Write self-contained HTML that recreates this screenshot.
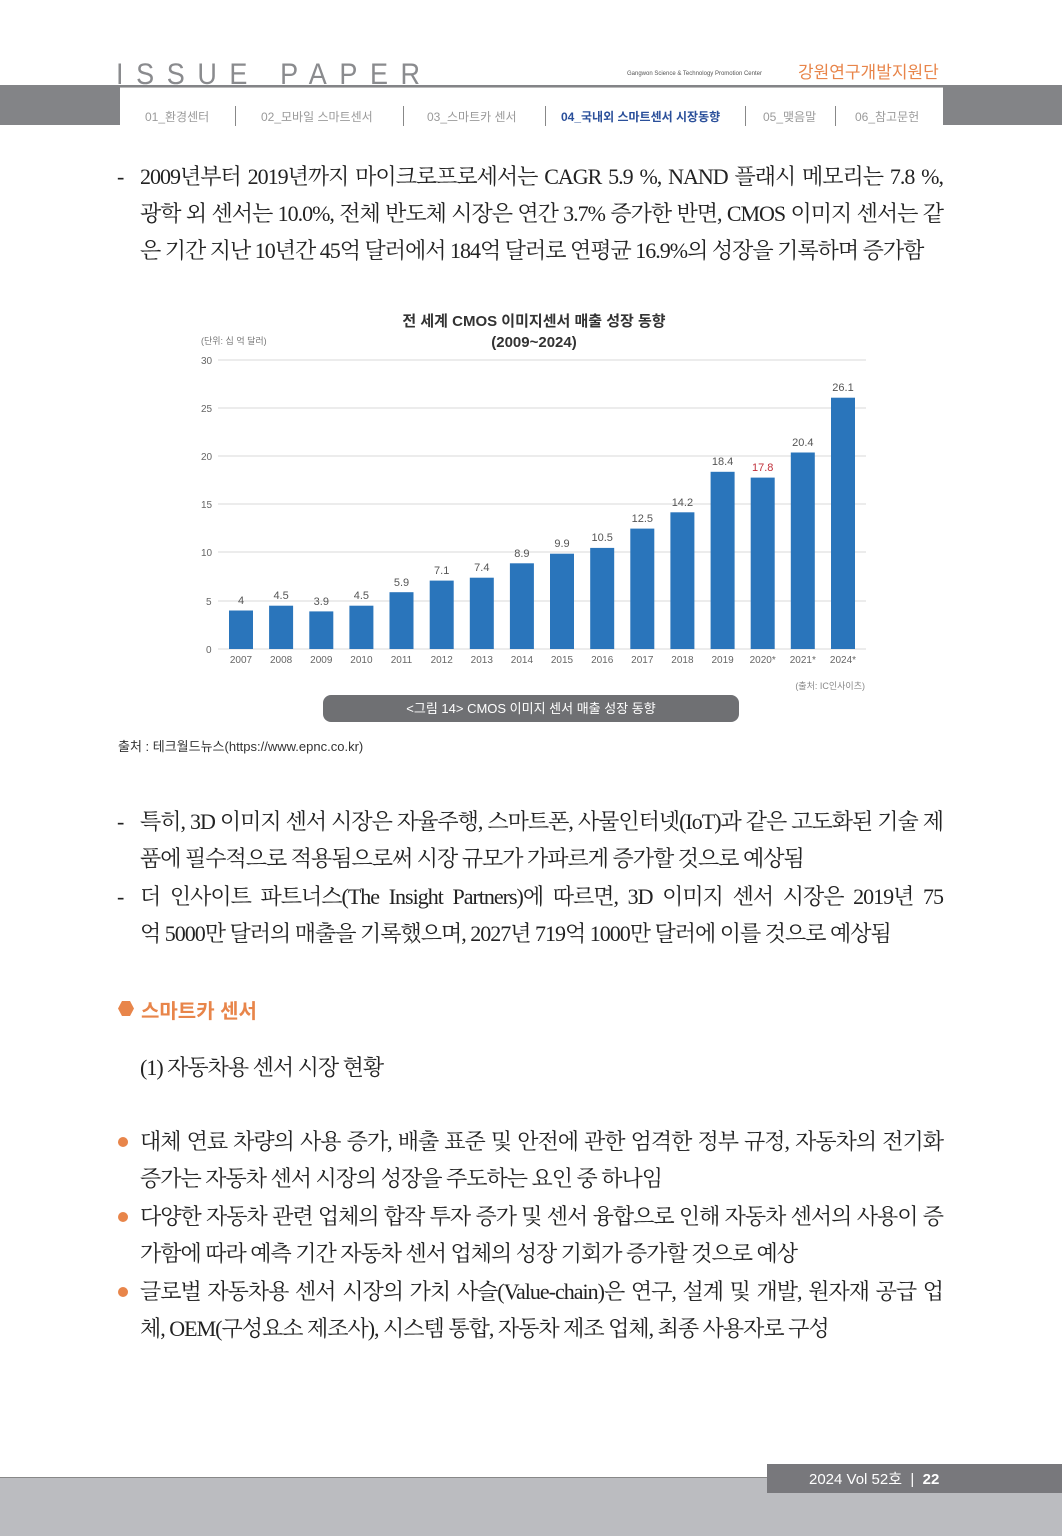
<!DOCTYPE html>
<html><head><meta charset="utf-8">
<style>
body{margin:0;width:1062px;height:1535px;position:relative;background:#fff;overflow:hidden;font-family:"Liberation Sans","Noto Sans CJK KR",sans-serif}
.a{position:absolute;white-space:nowrap}
.t{position:absolute;font-family:"Liberation Serif","Noto Serif CJK KR",serif;font-size:22px;color:#222;white-space:nowrap;letter-spacing:-1px;line-height:30px}
.j{width:803px;text-align:justify;text-align-last:justify}
.nav{font-size:12px;color:#9a9a9a;top:108px}
.sep{position:absolute;top:106px;width:1px;height:20px;background:#888}
</style></head><body>
<div class="a" style="left:116px;top:58px;font-size:30px;letter-spacing:14px;color:#8a8b8e;font-family:'Liberation Sans',sans-serif;transform:scaleX(0.9);transform-origin:left">ISSUE PAPER</div>
<div class="a" style="left:627px;top:71px;font-size:6px;color:#555">Gangwon Science &amp; Technology Promotion Center</div>
<div class="a" style="left:798px;top:58px;font-size:17px;color:#e8854a">강원연구개발지원단</div>
<div class="a" style="left:0;top:85px;width:1062px;height:40px;background:#838487"></div>
<div class="a" style="left:120px;top:87px;width:823px;height:38px;background:#fff;border-top:1px solid #bbb"></div>
<div class="a nav" style="left:145px">01_환경센터</div>
<div class="sep" style="left:235px"></div>
<div class="a nav" style="left:261px">02_모바일 스마트센서</div>
<div class="sep" style="left:403px"></div>
<div class="a nav" style="left:427px">03_스마트카 센서</div>
<div class="sep" style="left:545px"></div>
<div class="a nav" style="left:561px;color:#2a4f9a;font-weight:bold">04_국내외 스마트센서 시장동향</div>
<div class="sep" style="left:745px"></div>
<div class="a nav" style="left:763px">05_맺음말</div>
<div class="sep" style="left:835px"></div>
<div class="a nav" style="left:855px">06_참고문헌</div>

<div class="t" style="left:117px;top:162px">-</div>
<div class="t j" style="left:140px;top:162px">2009년부터 2019년까지 마이크로프로세서는 CAGR 5.9 %, NAND 플래시 메모리는 7.8 %,</div>
<div class="t j" style="left:140px;top:199px">광학 외 센서는 10.0%, 전체 반도체 시장은 연간 3.7% 증가한 반면, CMOS 이미지 센서는 같</div>
<div class="t" style="left:140px;top:236px">은 기간 지난 10년간 45억 달러에서 184억 달러로 연평균 16.9%의 성장을 기록하며 증가함</div>

<svg class="a" style="left:0;top:0" width="1062" height="740" font-family="Liberation Sans, Noto Sans CJK KR, sans-serif">
<text x="534" y="326" font-size="15" font-weight="bold" text-anchor="middle" fill="#333">전 세계 CMOS 이미지센서 매출 성장 동향</text>
<text x="534" y="347" font-size="15" font-weight="bold" text-anchor="middle" fill="#333">(2009~2024)</text>
<text x="201" y="344" font-size="9" fill="#777">(단위: 십 억 달러)</text>
<g stroke="#e6e6e6" stroke-width="1.5">
<line x1="218" x2="866" y1="360" y2="360"/><line x1="218" x2="866" y1="408" y2="408"/><line x1="218" x2="866" y1="456" y2="456"/><line x1="218" x2="866" y1="504" y2="504"/><line x1="218" x2="866" y1="552" y2="552"/><line x1="218" x2="866" y1="601" y2="601"/><line x1="218" x2="866" y1="649" y2="649"/>
</g>
<g font-size="10" fill="#666">
<text x="201" y="364">30</text><text x="201" y="412">25</text><text x="201" y="460">20</text><text x="201" y="508">15</text><text x="201" y="556">10</text><text x="206" y="605">5</text><text x="206" y="653">0</text>
</g>
<g fill="#2a75bb">
<rect x="229" y="610.5" width="24" height="38.5"/>
<rect x="269.1" y="605.7" width="24" height="43.3"/>
<rect x="309.3" y="611.4" width="24" height="37.6"/>
<rect x="349.4" y="605.7" width="24" height="43.3"/>
<rect x="389.5" y="592.2" width="24" height="56.8"/>
<rect x="429.7" y="580.6" width="24" height="68.4"/>
<rect x="469.8" y="577.7" width="24" height="71.3"/>
<rect x="509.9" y="563.3" width="24" height="85.7"/>
<rect x="550" y="553.7" width="24" height="95.3"/>
<rect x="590.2" y="547.9" width="24" height="101.1"/>
<rect x="630.3" y="528.6" width="24" height="120.4"/>
<rect x="670.4" y="512.3" width="24" height="136.7"/>
<rect x="710.6" y="471.8" width="24" height="177.2"/>
<rect x="750.7" y="477.6" width="24" height="171.4"/>
<rect x="790.8" y="452.5" width="24" height="196.5"/>
<rect x="831" y="397.7" width="24" height="251.3"/>
</g>
<g font-size="11" fill="#555" text-anchor="middle">
<text x="241" y="604">4</text><text x="281.1" y="599">4.5</text><text x="321.3" y="605">3.9</text><text x="361.4" y="599">4.5</text><text x="401.5" y="586">5.9</text><text x="441.7" y="574">7.1</text><text x="481.8" y="571">7.4</text><text x="521.9" y="557">8.9</text><text x="562" y="547">9.9</text><text x="602.2" y="541">10.5</text><text x="642.3" y="522">12.5</text><text x="682.4" y="506">14.2</text><text x="722.6" y="465">18.4</text><text x="762.7" y="471" fill="#c0303a">17.8</text><text x="802.8" y="446">20.4</text><text x="843" y="391">26.1</text>
</g>
<g font-size="10" fill="#666" text-anchor="middle">
<text x="241" y="663">2007</text><text x="281.1" y="663">2008</text><text x="321.3" y="663">2009</text><text x="361.4" y="663">2010</text><text x="401.5" y="663">2011</text><text x="441.7" y="663">2012</text><text x="481.8" y="663">2013</text><text x="521.9" y="663">2014</text><text x="562" y="663">2015</text><text x="602.2" y="663">2016</text><text x="642.3" y="663">2017</text><text x="682.4" y="663">2018</text><text x="722.6" y="663">2019</text><text x="762.7" y="663">2020*</text><text x="802.8" y="663">2021*</text><text x="843" y="663">2024*</text>
</g>
<text x="865" y="689" font-size="9" fill="#888" text-anchor="end">(출처: IC인사이츠)</text>
<rect x="323" y="695" width="416" height="27" rx="8" fill="#6f7073"/>
<text x="531" y="713" font-size="13" fill="#fff" text-anchor="middle">&lt;그림 14&gt; CMOS 이미지 센서 매출 성장 동향</text>
</svg>
<div class="a" style="left:118px;top:736px;font-size:13px;color:#333">출처 : 테크월드뉴스(https://www.epnc.co.kr)</div>

<div class="t" style="left:117px;top:807px">-</div>
<div class="t j" style="left:140px;top:807px">특히, 3D 이미지 센서 시장은 자율주행, 스마트폰, 사물인터넷(IoT)과 같은 고도화된 기술 제</div>
<div class="t" style="left:140px;top:844px">품에 필수적으로 적용됨으로써 시장 규모가 가파르게 증가할 것으로 예상됨</div>
<div class="t" style="left:117px;top:882px">-</div>
<div class="t j" style="left:140px;top:882px">더 인사이트 파트너스(The Insight Partners)에 따르면, 3D 이미지 센서 시장은 2019년 75</div>
<div class="t" style="left:140px;top:919px">억 5000만 달러의 매출을 기록했으며, 2027년 719억 1000만 달러에 이를 것으로 예상됨</div>

<div class="a" style="left:118px;top:1001px;width:16px;height:15px;background:#e8854a;clip-path:polygon(25% 0,75% 0,100% 50%,75% 100%,25% 100%,0 50%)"></div>
<div class="a" style="left:141px;top:995px;font-size:20px;font-weight:bold;color:#e8854a">스마트카 센서</div>
<div class="t" style="left:140px;top:1053px">(1) 자동차용 센서 시장 현황</div>

<div class="a" style="left:118px;top:1137px;width:10px;height:10px;border-radius:50%;background:#e8854a"></div>
<div class="t j" style="left:140px;top:1127px">대체 연료 차량의 사용 증가, 배출 표준 및 안전에 관한 엄격한 정부 규정, 자동차의 전기화</div>
<div class="t" style="left:140px;top:1164px">증가는 자동차 센서 시장의 성장을 주도하는 요인 중 하나임</div>
<div class="a" style="left:118px;top:1212px;width:10px;height:10px;border-radius:50%;background:#e8854a"></div>
<div class="t j" style="left:140px;top:1202px">다양한 자동차 관련 업체의 합작 투자 증가 및 센서 융합으로 인해 자동차 센서의 사용이 증</div>
<div class="t" style="left:140px;top:1239px">가함에 따라 예측 기간 자동차 센서 업체의 성장 기회가 증가할 것으로 예상</div>
<div class="a" style="left:118px;top:1287px;width:10px;height:10px;border-radius:50%;background:#e8854a"></div>
<div class="t j" style="left:140px;top:1277px">글로벌 자동차용 센서 시장의 가치 사슬(Value-chain)은 연구, 설계 및 개발, 원자재 공급 업</div>
<div class="t" style="left:140px;top:1314px">체, OEM(구성요소 제조사), 시스템 통합, 자동차 제조 업체, 최종 사용자로 구성</div>

<div class="a" style="left:0;top:1477px;width:1062px;height:58px;background:#bbbcc0;border-top:1px solid #888"></div>
<div class="a" style="left:767px;top:1464px;width:295px;height:29px;background:#78787c"></div>
<div class="a" style="left:809px;top:1468px;font-size:15px;color:#fff">2024 Vol 52호 &nbsp;| &nbsp;<b>22</b></div>
</body></html>
